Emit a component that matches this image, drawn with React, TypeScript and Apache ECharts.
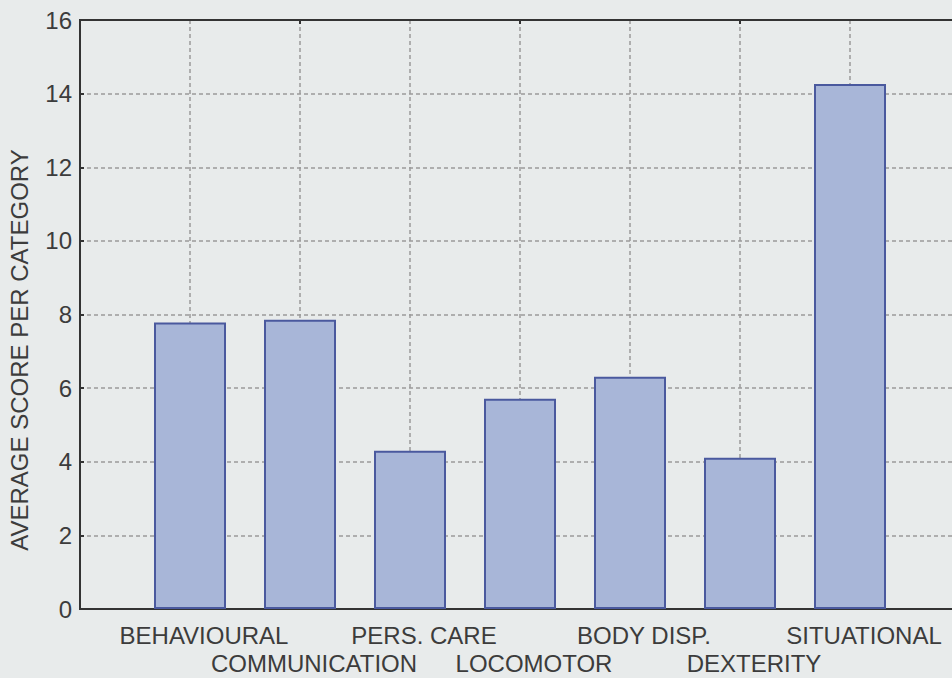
import React, { useEffect, useRef } from "react";
import * as echarts from "echarts";

const categories = ["", "BEHAVIOURAL", "COMMUNICATION", "PERS. CARE", "LOCOMOTOR", "BODY DISP.", "DEXTERITY", "SITUATIONAL", ""];
const scores = [null, 7.78, 7.86, 4.3, 5.71, 6.31, 4.11, 14.26, null];
const yTicks = { min: 0, max: 16, interval: 2 };
const yTitle = "AVERAGE SCORE PER CATEGORY";

const FONT = "Liberation Sans";
const TEXT = "#3c3c3c";
const BG = "#e8ebeb";
const AXIS = "#333";

export default function App() {
  const ref = useRef<HTMLDivElement>(null);
  useEffect(() => {
    if (!ref.current) return;
    const chart = echarts.init(ref.current, undefined, { renderer: "svg" });
    chart.setOption({
      animation: false,
      backgroundColor: BG,
      textStyle: { fontFamily: FONT },
      grid: {
        left: 80,
        top: 20,
        width: 880,
        height: 589,
        show: true,
        borderColor: AXIS,
        borderWidth: 2,
        backgroundColor: "transparent",
      },
      xAxis: [
        {
          type: "category",
          data: categories,
          boundaryGap: false,
          axisLine: { lineStyle: { color: AXIS, width: 2 } },
          axisTick: { show: true, inside: true, length: 4, lineStyle: { color: AXIS, width: 2 } },
          axisLabel: {
            interval: 0,
            color: TEXT,
            fontSize: 24,
            fontFamily: FONT,
            lineHeight: 28,
            margin: 12,
            padding: [0, 0, 0, 28],
            formatter: (v: string, i: number) => (i % 2 === 0 ? "\n" + v : v),
          },
          splitLine: { show: true, lineStyle: { color: "#9a9a9a", type: [4, 3], width: 1.5 } },
        },
        {
          type: "category",
          position: "top",
          data: categories,
          boundaryGap: false,
          axisLine: { show: true, onZero: false, lineStyle: { color: AXIS, width: 2 } },
          axisTick: { show: true, inside: true, length: 4, lineStyle: { color: AXIS, width: 2 } },
          axisLabel: { show: false },
          splitLine: { show: false },
        },
      ],
      yAxis: {
        type: "value",
        min: yTicks.min,
        max: yTicks.max,
        interval: yTicks.interval,
        axisLine: { show: true, lineStyle: { color: AXIS, width: 2 } },
        axisTick: { show: true, inside: true, length: 4, lineStyle: { color: AXIS, width: 2 } },
        axisLabel: { color: TEXT, fontSize: 24, fontFamily: FONT, margin: 8 },
        splitLine: { show: true, lineStyle: { color: "#9a9a9a", type: [4, 3], width: 1.5 } },
      },
      graphic: [
        {
          type: "text",
          x: 19,
          y: 350,
          rotation: Math.PI / 2,
          style: {
            text: yTitle,
            fill: TEXT,
            font: `24px ${FONT}`,
            textAlign: "center",
            textVerticalAlign: "middle",
          },
        },
      ],
      series: [
        {
          type: "bar",
          xAxisIndex: 0,
          data: scores,
          barWidth: 72,
          itemStyle: { color: "#a8b6d8", borderColor: "#4a599e", borderWidth: 2 },
        },
      ],
    });
    return () => chart.dispose();
  }, []);
  return (
    <div style={{ position: "fixed", left: 0, top: 0, width: 952, height: 678, overflow: "hidden", background: BG }}>
      <div ref={ref} style={{ width: 1000, height: 678 }} />
    </div>
  );
}
